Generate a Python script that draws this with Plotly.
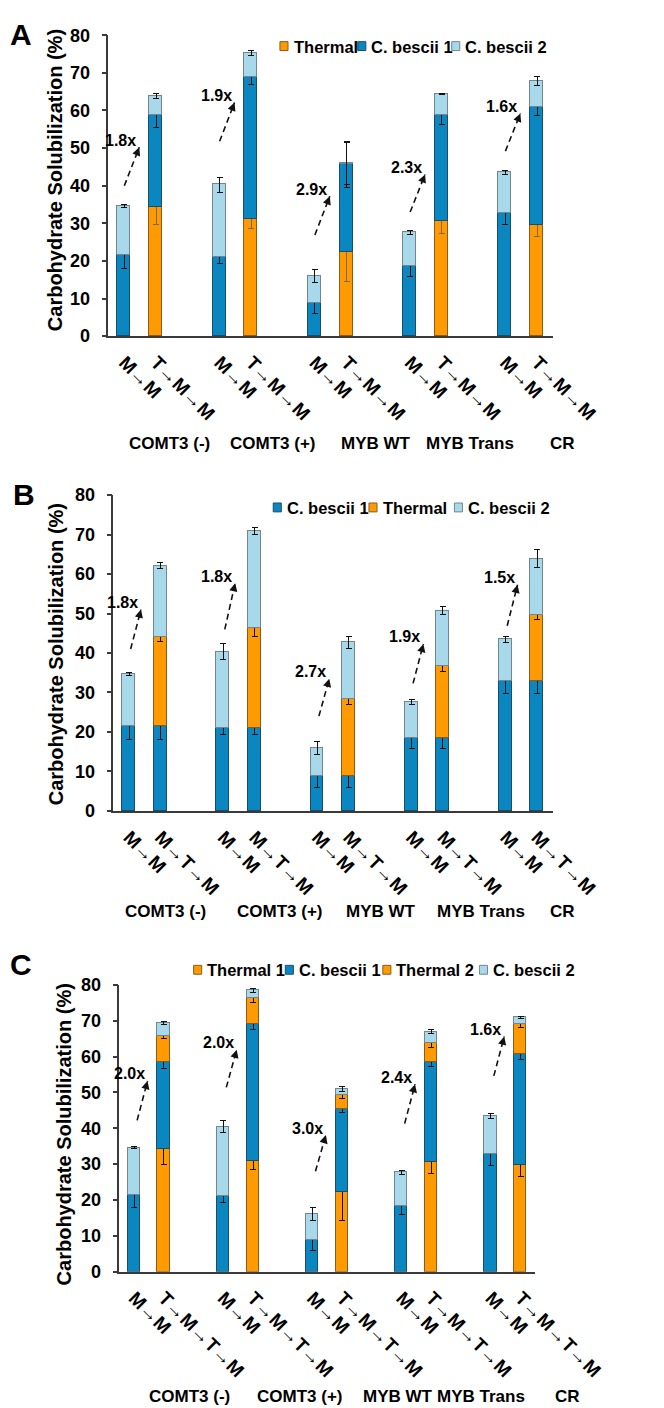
import plotly.graph_objects as go

W, H = 664, 1408
FONT = "Liberation Sans, Arial, sans-serif"

GROUPS = ["COMT3 (-)", "COMT3 (+)", "MYB WT", "MYB Trans", "CR"]
TICKS_A = ["M→M", "T→M→M"]
TICKS_B = ["M→M", "M→T→M"]
TICKS_C = ["M→M", "T→M→T→M"]

# ---------------- Panel A (segment values, %) ----------------
A_thermal = [None, 34.2, None, 31.0, None, 22.2, None, 30.5, None, 29.6]
A_thermal_err = [0, 4.5, 0, 2.5, 0, 7.8, 0, 3.3, 0, 3.2]
A_cb1 = [21.5, 24.4, 21.0, 37.8, 8.8, 23.5, 18.5, 28.1, 32.8, 31.2]
A_cb1_err = [3.5, 3.0, 1.6, 1.8, 2.9, 6.1, 2.6, 2.4, 3.1, 2.2]
A_cb2 = [13.1, 5.2, 19.3, 6.5, 7.2, 0.2, 9.1, 5.8, 10.7, 7.0]
A_cb2_err = [0.5, 0.6, 2.0, 0.6, 1.7, 5.7, 0.6, 0.2, 0.6, 1.1]
A_fold = ["1.8x", "1.9x", "2.9x", "2.3x", "1.6x"]
A_tail_y = [40.0, 51.8, 26.9, 33.0, 49.2]
A_head_y = [50.2, 62.1, 37.2, 43.0, 59.2]

# ---------------- Panel B ----------------
B_cb1 = [21.5, 21.5, 21.0, 21.0, 8.8, 8.8, 18.4, 18.4, 32.8, 32.8]
B_cb1_err = [3.5, 3.5, 1.7, 1.7, 2.9, 2.9, 2.6, 2.6, 3.1, 3.1]
B_thermal = [None, 22.5, None, 25.2, None, 19.6, None, 18.3, None, 16.7]
B_thermal_err = [0, 1.2, 0, 2.1, 0, 1.5, 0, 1.3, 0, 1.0]
B_cb2 = [13.1, 18.1, 19.3, 24.6, 7.2, 14.3, 9.1, 14.0, 10.6, 14.4]
B_cb2_err = [0.4, 0.8, 2.0, 0.9, 1.7, 1.5, 0.6, 1.0, 0.7, 2.2]
B_fold = ["1.8x", "1.8x", "2.7x", "1.9x", "1.5x"]
B_tail_y = [41.0, 46.0, 24.0, 32.3, 46.9]
B_head_y = [51.0, 57.7, 33.5, 42.3, 57.3]

# ---------------- Panel C ----------------
C_thermal1 = [None, 34.3, None, 30.9, None, 22.2, None, 30.7, None, 29.7]
C_thermal1_err = [0, 4.5, 0, 2.5, 0, 7.8, 0, 3.3, 0, 3.1]
C_cb1 = [21.5, 24.2, 21.0, 38.1, 8.8, 23.2, 18.4, 27.9, 32.8, 31.1]
C_cb1_err = [3.5, 1.7, 1.7, 1.4, 2.9, 1.0, 2.6, 1.5, 3.1, 1.5]
C_thermal2 = [None, 7.3, None, 7.3, None, 4.0, None, 5.2, None, 8.4]
C_thermal2_err = [0, 0.8, 0, 1.3, 0, 1.0, 0, 1.2, 0, 1.2]
C_cb2 = [13.1, 3.5, 19.5, 2.2, 7.3, 1.5, 9.3, 3.1, 10.6, 1.8]
C_cb2_err = [0.3, 0.4, 1.8, 0.6, 1.8, 0.7, 0.6, 0.6, 0.7, 0.3]
C_fold = ["2.0x", "2.0x", "3.0x", "2.4x", "1.6x"]
C_tail_y = [42.2, 51.4, 28.0, 41.3, 54.6]
C_head_y = [53.2, 61.9, 38.1, 52.3, 65.6]

ORANGE, ORANGE_LINE = "#FF9A00", "#8A5A1E"
BLUE, BLUE_LINE = "#0A87C1", "#1D4C66"
LIGHT, LIGHT_LINE = "#A8D9EA", "#74858F"
AXIS = "#3A3A3A"
ERR = "#111111"
ERR_SOFT = "#7A6A55"

# bar slot positions: two bars per group, one empty slot between groups
XPOS = [3 * g + k for g in range(len(GROUPS)) for k in range(2)]


def X(px):
    return px / W


def Y(py):
    return 1 - py / H


panels = [
    dict(
        key="", letter="A", ticks=TICKS_A,
        xdom=(112.3, 609.3), ydom=(322.7, 17.5),
        series=[("Thermal", A_thermal, A_thermal_err, ORANGE, ORANGE_LINE, ERR_SOFT),
                ("C. bescii 1", A_cb1, A_cb1_err, BLUE, BLUE_LINE, ERR),
                ("C. bescii 2", A_cb2, A_cb2_err, LIGHT, LIGHT_LINE, ERR)],
        fold=A_fold, tail_y=A_tail_y, head_y=A_head_y, tdx=0.0, hdx=0.47,
        legend_x=[304, 391, 496], legend_y=28.5,
        letter_xy=(15, 17), title_xy=(52, 165),
        group_x=[180, 296, 411, 517, 620], group_y=432,
    ),
    dict(
        key="2", letter="B", ticks=TICKS_B,
        xdom=(117.8, 608.9), ydom=(804.3, 484.0),
        series=[("C. bescii 1", B_cb1, B_cb1_err, BLUE, BLUE_LINE, ERR),
                ("Thermal", B_thermal, B_thermal_err, ORANGE, ORANGE_LINE, ERR),
                ("C. bescii 2", B_cb2, B_cb2_err, LIGHT, LIGHT_LINE, ERR)],
        fold=B_fold, tail_y=B_tail_y, head_y=B_head_y, tdx=0.05, hdx=0.38,
        legend_x=[296.5, 403.5, 499], legend_y=496.5,
        letter_xy=(18, 483), title_xy=(53, 645),
        group_x=[176, 303, 417, 529, 620], group_y=906,
    ),
    dict(
        key="3", letter="C", ticks=TICKS_C,
        xdom=(124.4, 589.6), ydom=(1271.7, 980.8),
        series=[("Thermal 1", C_thermal1, C_thermal1_err, ORANGE, ORANGE_LINE, ERR),
                ("C. bescii 1", C_cb1, C_cb1_err, BLUE, BLUE_LINE, ERR),
                ("Thermal 2", C_thermal2, C_thermal2_err, ORANGE, ORANGE_LINE, ERR),
                ("C. bescii 2", C_cb2, C_cb2_err, LIGHT, LIGHT_LINE, ERR)],
        fold=C_fold, tail_y=C_tail_y, head_y=C_head_y, tdx=0.1, hdx=0.45,
        legend_x=[207.5, 310, 419, 527], legend_y=965.5,
        letter_xy=(15, 960), title_xy=(62, 1132),
        group_x=[203, 326, 436, 529, 625], group_y=1398,
    ),
]

fig = go.Figure()
shapes, annotations = [], []
layout = {}

for p in panels:
    k = p["key"]
    xa, ya = "x" + k, "y" + k
    for name, vals, errs, col, lcol, ecol in p["series"]:
        fig.add_trace(go.Bar(
            x=XPOS, y=vals, name=name, xaxis=xa, yaxis=ya, width=0.41,
            marker=dict(color=col, line=dict(color=lcol, width=1)),
            error_y=dict(type="data", array=errs, visible=True,
                         color=ecol, thickness=1, width=3),
            showlegend=False,
        ))
    ticktext = [p["ticks"][i % 2] for i in range(len(XPOS))]
    layout["xaxis" + k] = dict(
        domain=[X(p["xdom"][0]), X(p["xdom"][1])], anchor=ya,
        range=[-0.5, 13.5], tickmode="array", tickvals=XPOS, ticktext=ticktext,
        tickangle=45, ticks="", showline=True, linecolor=AXIS, linewidth=1.5,
        showgrid=False, zeroline=False, fixedrange=True, ticklabelstandoff=6,
        tickfont=dict(family=FONT, size=19, color="#000", weight="bold"),
    )
    layout["yaxis" + k] = dict(
        domain=[Y(p["ydom"][0]), Y(p["ydom"][1])], anchor=xa,
        range=[0, 80], dtick=10, tick0=0, ticks="outside", ticklen=5,
        tickwidth=1.5, tickcolor=AXIS, showline=True, linecolor=AXIS,
        linewidth=1.5, showgrid=False, zeroline=False, ticklabelstandoff=8,
        tickfont=dict(family=FONT, size=18, color="#000", weight="bold"),
    )

    # fold-change dashed arrows
    for g, lab in enumerate(p["fold"]):
        base = XPOS[2 * g]
        tx, hx = base + p["tdx"], base + p["hdx"]
        ty, hy = p["tail_y"][g], p["head_y"][g]
        shapes.append(dict(type="line", xref=xa, yref=ya, x0=tx, y0=ty, x1=hx, y1=hy,
                           line=dict(color="#111", width=1.6, dash="6px,4px")))
        annotations.append(dict(
            xref=xa, yref=ya, x=hx, y=hy, axref=xa, ayref=ya,
            ax=hx - 0.12 * (hx - tx), ay=hy - 0.12 * (hy - ty), text="",
            showarrow=True, arrowhead=2, arrowsize=1.1, arrowwidth=1.5,
            arrowcolor="#111"))
        annotations.append(dict(
            xref=xa, yref=ya, x=hx, y=hy, text=lab, showarrow=False,
            xanchor="right", yanchor="middle", xshift=-1, yshift=7,
            font=dict(family=FONT, size=16, color="#000", weight="bold")))

    # manual legend
    ly = p["legend_y"]
    for (name, _, _, col, lcol, _), lx in zip(p["series"], p["legend_x"]):
        shapes.append(dict(type="rect", xref="paper", yref="paper",
                           x0=X(lx), x1=X(lx + 9), y0=Y(ly + 4.5), y1=Y(ly - 4.5),
                           fillcolor=col, line=dict(color=lcol, width=1)))
        annotations.append(dict(
            xref="paper", yref="paper", x=X(lx + 13), y=Y(ly + 0.5), text=name,
            showarrow=False, xanchor="left", yanchor="middle",
            font=dict(family=FONT, size=16.5, color="#000", weight="bold")))

    # panel letter
    annotations.append(dict(
        xref="paper", yref="paper", x=X(p["letter_xy"][0]), y=Y(p["letter_xy"][1]),
        text=p["letter"], showarrow=False, xanchor="center", yanchor="middle",
        font=dict(family=FONT, size=30, color="#000", weight="bold")))
    # y-axis title
    annotations.append(dict(
        xref="paper", yref="paper", x=X(p["title_xy"][0]), y=Y(p["title_xy"][1]),
        text="Carbohydrate Solubilization (%)", textangle=-90, showarrow=False,
        xanchor="center", yanchor="middle",
        font=dict(family=FONT, size=20, color="#000", weight="bold")))
    # group labels
    for gx, gname in zip(p["group_x"], GROUPS):
        annotations.append(dict(
            xref="paper", yref="paper", x=X(gx), y=Y(p["group_y"]), text=gname,
            showarrow=False, xanchor="center", yanchor="middle",
            font=dict(family=FONT, size=17, color="#000", weight="bold")))

fig.update_layout(
    width=W, height=H, autosize=False,
    margin=dict(l=0, r=0, t=0, b=0),
    paper_bgcolor="white", plot_bgcolor="white",
    barmode="stack", bargap=0,
    font=dict(family=FONT, color="#000"),
    shapes=shapes, annotations=annotations,
    **layout,
)

fig.write_html("out.html")
